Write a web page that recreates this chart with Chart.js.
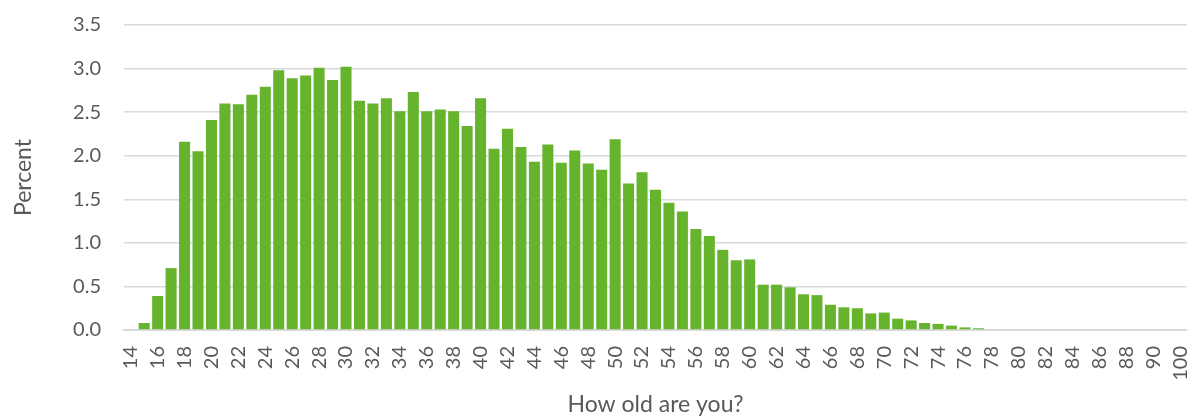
<!DOCTYPE html>
<html>
<head>
<meta charset="utf-8">
<script src="https://cdn.jsdelivr.net/npm/chart.js@4/dist/chart.umd.min.js"></script>
<style>
    body { margin: 0; background: #fff; }
    #wrap { width: 1187px; height: 416px; position: relative; }
</style>
</head>
<body>
<div id="wrap"><canvas id="age-graph"></canvas></div>
<script>
// ages 14..91 plus 100 (the survey's oldest answer)
const ages = [
    '14', '15', '16', '17', '18', '19', '20', '21', '22', '23',
    '24', '25', '26', '27', '28', '29', '30', '31', '32', '33',
    '34', '35', '36', '37', '38', '39', '40', '41', '42', '43',
    '44', '45', '46', '47', '48', '49', '50', '51', '52', '53',
    '54', '55', '56', '57', '58', '59', '60', '61', '62', '63',
    '64', '65', '66', '67', '68', '69', '70', '71', '72', '73',
    '74', '75', '76', '77', '78', '79', '80', '81', '82', '83',
    '84', '85', '86', '87', '88', '89', '90', '91', '100'
];

const percent = [
    0.00, 0.08, 0.39, 0.71, 2.16, 2.05, 2.41, 2.60, 2.59, 2.70,
    2.79, 2.98, 2.89, 2.92, 3.01, 2.87, 3.02, 2.63, 2.60, 2.66,
    2.51, 2.73, 2.51, 2.53, 2.51, 2.34, 2.66, 2.08, 2.31, 2.10,
    1.93, 2.13, 1.92, 2.06, 1.91, 1.84, 2.19, 1.68, 1.81, 1.61,
    1.46, 1.36, 1.16, 1.08, 0.92, 0.80, 0.81, 0.52, 0.52, 0.49,
    0.41, 0.40, 0.29, 0.26, 0.25, 0.19, 0.20, 0.13, 0.11, 0.08,
    0.07, 0.05, 0.03, 0.02, 0, 0, 0, 0, 0, 0,
    0, 0, 0, 0, 0, 0, 0, 0, 0
];

const yMin = 0;
const yMax = 3.5;
const yStep = 0.5;

const textGrey = '#595959';
const gridGrey = '#d9d9d9';

function renderAgeGraph() {
    const ctx = document.getElementById('age-graph').getContext('2d');
    new Chart(ctx, {
        type: 'bar',
        data: {
            labels: ages,
            datasets: [{
                label: 'Percent',
                data: percent,
                backgroundColor: '#66b32e',
                borderWidth: 0,
                categoryPercentage: 1,
                barPercentage: 0.82
            }]
        },
        options: {
            responsive: true,
            maintainAspectRatio: false,
            animation: false,
            layout: { padding: { top: 25, right: 0, left: 0, bottom: 0 } },
            plugins: {
                legend: { display: false },
                tooltip: { enabled: false }
            },
            scales: {
                x: {
                    grid: { display: false, drawTicks: false },
                    border: { display: true, color: gridGrey, width: 2 },
                    ticks: {
                        autoSkip: false,
                        minRotation: 90,
                        maxRotation: 90,
                        padding: 16,
                        color: textGrey,
                        font: { family: 'Lato', size: 20 },
                        callback: (val, i) => i % 2 === 0 ? ages[i] : ''
                    },
                    title: {
                        display: true,
                        text: 'How old are you?',
                        color: textGrey,
                        font: { family: 'Lato', size: 23, lineHeight: 1 },
                        padding: { top: 0, bottom: 0 }
                    },
                    afterFit: (scale) => {
                        scale.height = 86;
                        scale.paddingRight = 0;
                        scale.paddingLeft = 0;
                    }
                },
                y: {
                    min: yMin,
                    max: yMax,
                    grid: { color: gridGrey, lineWidth: 1.5, drawTicks: false },
                    border: { display: false },
                    ticks: {
                        stepSize: yStep,
                        padding: 23,
                        color: textGrey,
                        font: { family: 'Lato', size: 20 },
                        callback: v => v.toFixed(1)
                    },
                    title: {
                        display: true,
                        text: 'Percent',
                        color: textGrey,
                        font: { family: 'Lato', size: 23, lineHeight: 1 },
                        padding: { top: 12, bottom: 0 }
                    },
                    afterFit: (scale) => {
                        scale.width = 124;
                        scale.paddingTop = 0;
                        scale.paddingBottom = 0;
                    }
                }
            }
        }
    });
}

window.onload = renderAgeGraph;
</script>
</body>
</html>
